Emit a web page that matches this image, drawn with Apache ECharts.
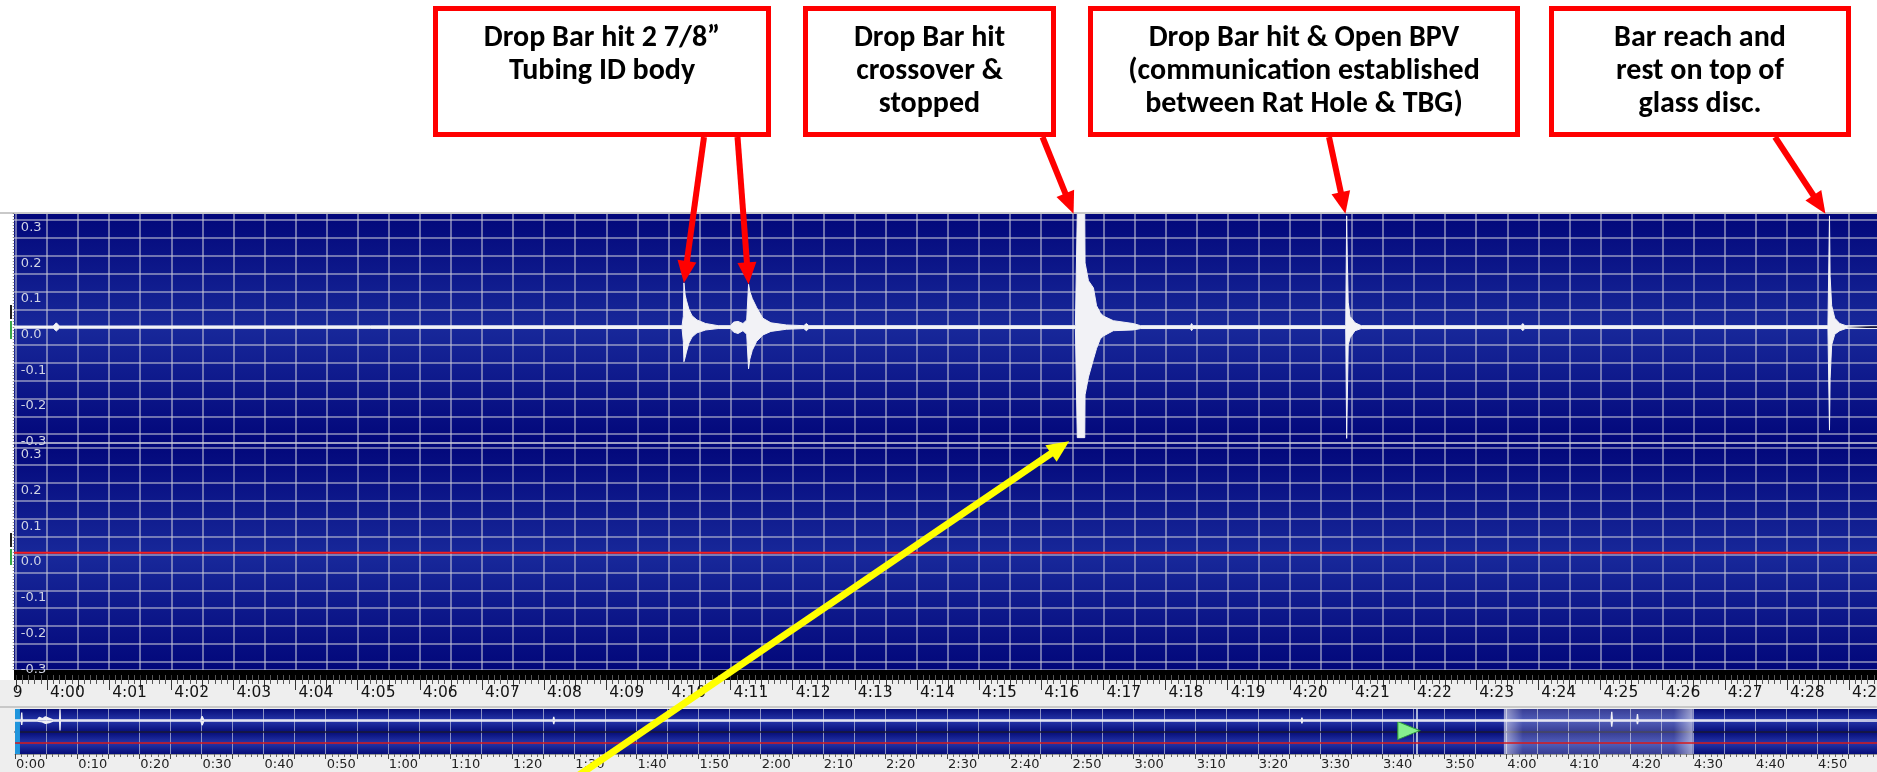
<!DOCTYPE html>
<html>
<head>
<meta charset="utf-8">
<title>Drop bar trace</title>
<script src="https://cdn.jsdelivr.net/npm/echarts@6.0.0/dist/echarts.min.js"></script>
<style>
  html, body { margin: 0; padding: 0; background: #fff; }
  #chart { width: 1877px; height: 772px; }
</style>
</head>
<body>
<div id="chart"></div>
<script>
// ---- data (times in seconds from start of record) ----
// upper channel, envelope of the signal
var traceTime = [239.00, 240.10, 240.15, 240.20, 250.22, 250.24, 250.25, 250.27, 250.29, 250.33,
                 250.38, 250.46, 250.60, 250.80, 251.00, 251.05, 251.12, 251.20, 251.26, 251.29,
                 251.31, 251.35, 251.42, 251.52, 251.65, 251.90, 252.18, 252.22, 252.26, 256.55,
                 256.58, 256.70, 256.705, 256.76, 256.84, 256.89, 256.95, 257.00, 257.16, 257.48,
                 257.60, 258.40, 258.42, 258.44, 260.90, 260.915, 260.925, 260.94, 260.97, 261.05,
                 261.15, 263.72, 263.75, 263.78, 268.66, 268.685, 268.695, 268.72, 268.77, 268.85,
                 268.95, 269.50];
var traceHigh = [0.003, 0.003, 0.012, 0.003, 0.004, 0.030, 0.124, 0.090, 0.075, 0.050,
                 0.032, 0.020, 0.010, 0.004, 0.004, 0.014, 0.016, 0.010, 0.020, 0.120,
                 0.100, 0.080, 0.055, 0.025, 0.012, 0.006, 0.004, 0.010, 0.004, 0.004,
                 0.320, 0.320, 0.180, 0.130, 0.110, 0.060, 0.040, 0.031, 0.018, 0.010,
                 0.004, 0.004, 0.010, 0.004, 0.004, 0.312, 0.200, 0.070, 0.030, 0.012,
                 0.004, 0.004, 0.010, 0.004, 0.004, 0.312, 0.143, 0.060, 0.025, 0.010,
                 0.004, 0.004];
var traceLow  = [-0.003, -0.003, -0.011, -0.003, -0.004, -0.040, -0.097, -0.085, -0.070, -0.045,
                 -0.028, -0.016, -0.008, -0.004, -0.004, -0.014, -0.018, -0.010, -0.020, -0.117,
                 -0.090, -0.065, -0.040, -0.022, -0.012, -0.006, -0.004, -0.010, -0.004, -0.004,
                 -0.310, -0.310, -0.190, -0.140, -0.090, -0.060, -0.033, -0.025, -0.010, -0.008,
                 -0.004, -0.004, -0.010, -0.004, -0.004, -0.312, -0.210, -0.050, -0.030, -0.010,
                 -0.004, -0.004, -0.010, -0.004, -0.004, -0.289, -0.145, -0.050, -0.020, -0.010,
                 -0.004, -0.004];
// lower channel (flat red trace)
var refTime  = [239.0, 269.5];
var refLevel = [0.005, 0.005];

// overview strip, whole record 0:00 - 5:00
var overviewTime = [0, 1.00, 1.08, 1.16, 3.6, 3.9, 4.4, 4.9, 5.5, 6.1,
                    7.18, 7.24, 7.30, 8.5, 8.6, 8.7, 12.7, 12.8, 12.9, 24.5,
                    24.6, 24.7, 29.9, 30.1, 30.4, 86.6, 86.7, 86.8, 207.0, 207.1,
                    207.2, 250.4, 250.5, 250.6, 256.86, 256.96, 257.06, 261.0, 261.1, 261.2,
                    268.9, 269.0, 269.1, 300];
var overviewHigh = [0.015, 0.015, 0.22, 0.015, 0.015, 0.09, 0.05, 0.10, 0.06, 0.015,
                    0.015, 0.31, 0.015, 0.015, 0.04, 0.015, 0.015, 0.03, 0.015, 0.015,
                    0.07, 0.015, 0.015, 0.12, 0.015, 0.015, 0.10, 0.015, 0.015, 0.08,
                    0.015, 0.015, 0.03, 0.015, 0.015, 0.24, 0.015, 0.015, 0.18, 0.015,
                    0.015, 0.06, 0.015, 0.015];
var overviewLow  = [-0.015, -0.015, -0.125, -0.015, -0.015, -0.07, -0.04, -0.08, -0.06, -0.015,
                    -0.015, -0.28, -0.015, -0.015, -0.04, -0.015, -0.015, -0.03, -0.015, -0.015,
                    -0.07, -0.015, -0.015, -0.13, -0.015, -0.015, -0.10, -0.015, -0.015, -0.08,
                    -0.015, -0.015, -0.03, -0.015, -0.015, -0.17, -0.015, -0.015, -0.10, -0.015,
                    -0.015, -0.06, -0.015, -0.015];
var overviewRefTime  = [0, 300];
var overviewRefLevel = [0, 0];
var viewWindow = [239.6, 270.0];
var startMark = [0, 0.8];
var playhead = 225.5;
var playMarker = [224.3, -0.28];

// annotation texts and the points they point at [time, value]
var noteText = [
  'Drop Bar hit 2 7/8\u201d\nTubing ID body',
  'Drop Bar hit\ncrossover &\nstopped',
  'Drop Bar hit & Open BPV\n(communication established\nbetween Rat Hole & TBG)',
  'Bar reach and\nrest on top of\nglass disc.'
];
var arrowTargets = [[250.25, 0.124], [251.29, 0.12], [256.52, 0.318], [260.895, 0.318], [268.62, 0.318]];
var yellowTarget = [256.45, -0.32];

// ---- layout ----
var pxPerSec = 62.14;
var x400 = 47;                       // pixel of 4:00
var mainMin = 239, mainMax = 269.5;
var mainLeft = x400 - (240 - mainMin) * pxPerSec;
var mainWidth = (mainMax - mainMin) * pxPerSec;
var ovLeft = 15, ovWidth = 300 * pxPerSec / 10;

function pad2(n) { return n < 10 ? '0' + n : '' + n; }
function mmss(v) {
  var s = Math.round(v);
  return Math.floor(s / 60) + ':' + pad2(s % 60);
}
function zip(a, b) { return a.map(function (t, i) { return [t, b[i]]; }); }

function panelBg(c0, c1) {
  return new echarts.graphic.LinearGradient(0, 0, 0, 1, [
    { offset: 0, color: c0 }, { offset: 0.5, color: c1 }, { offset: 1, color: c0 }
  ]);
}

var gridColor = 'rgba(200,200,215,0.72)';
var yLabel = {
  inside: true, margin: 36, align: 'left', verticalAlign: 'top', padding: [1, 0, 0, 0],
  color: '#d0d3e4', fontSize: 13, fontFamily: 'DejaVu Sans',
  formatter: function (v) {
    var r = Math.round(v * 10) / 10;
    if (Math.abs(v - r) > 1e-6) return '';
    return (r === 0 ? 0 : r).toFixed(1);
  }
};

var chart = echarts.init(document.getElementById('chart'));

var option = {
  animation: false,
  backgroundColor: '#ffffff',
  grid: [
    { left: mainLeft, top: 213, width: mainWidth, height: 230, show: true, borderWidth: 0,
      outerBoundsMode: 'none', backgroundColor: panelBg('#02077a', '#18289a') },
    { left: mainLeft, top: 443, width: mainWidth, height: 227, show: true, borderWidth: 0,
      outerBoundsMode: 'none', backgroundColor: panelBg('#02077a', '#18289a') },
    { left: ovLeft, top: 709, width: ovWidth, height: 23, show: true, borderWidth: 0,
      outerBoundsMode: 'none', backgroundColor: panelBg('#050c78', '#2636aa') },
    { left: ovLeft, top: 732, width: ovWidth, height: 22, show: true, borderWidth: 0,
      outerBoundsMode: 'none', backgroundColor: panelBg('#050c78', '#2636aa') }
  ],
  xAxis: [
    { gridIndex: 0, type: 'value', min: mainMin, max: mainMax, interval: 0.5,
      axisLine: { show: true, lineStyle: { color: '#14143c', width: 2 } },
      axisTick: { show: false }, axisLabel: { show: false },
      splitLine: { show: true, lineStyle: { color: gridColor, width: 1.5 } } },
    { gridIndex: 1, type: 'value', min: mainMin, max: mainMax, interval: 0.5, offset: 5,
      axisLine: { show: true, onZero: false, lineStyle: { color: '#000', width: 10 } },
      axisTick: { show: true, length: 15, lineStyle: { color: '#333', width: 1 } },
      minorTick: { show: true, splitNumber: 5, length: 9, lineStyle: { color: '#555', width: 1 } },
      axisLabel: { show: true, align: 'left', margin: 10, padding: [0, 0, 0, 3],
        color: '#141414', fontSize: 15.5, fontFamily: 'DejaVu Sans',
        formatter: function (v) { return Math.abs(v - Math.round(v)) > 1e-6 ? '' : mmss(v); } },
      splitLine: { show: true, lineStyle: { color: gridColor, width: 1.5 } } },
    { gridIndex: 2, type: 'value', min: 0, max: 300, interval: 5,
      axisLine: { show: true, onZero: false, lineStyle: { color: '#1a1a36', width: 1.5 } },
      axisTick: { show: false }, axisLabel: { show: false },
      splitLine: { show: true, lineStyle: { color: 'rgba(170,175,210,0.8)', width: 1 } } },
    { gridIndex: 3, type: 'value', min: 0, max: 300, interval: 5,
      axisLine: { show: true, onZero: false, lineStyle: { color: '#9a9a9a', width: 1 } },
      axisTick: { show: true, length: 5, lineStyle: { color: '#444' } },
      minorTick: { show: true, splitNumber: 5, length: 3, lineStyle: { color: '#666' } },
      axisLabel: { show: true, align: 'left', margin: 4, padding: [0, 0, 0, 1],
        color: '#222', fontSize: 13, fontFamily: 'DejaVu Sans',
        formatter: function (v) { return Math.round(v) % 10 === 0 ? mmss(v) : ''; } },
      splitLine: { show: true, lineStyle: { color: 'rgba(170,175,210,0.8)', width: 1 } } }
  ],
  yAxis: [
    { gridIndex: 0, type: 'value', min: -0.325, max: 0.32, splitNumber: 13,
      minInterval: 0.05, maxInterval: 0.05,
      axisLine: { show: false }, axisTick: { show: false }, axisLabel: yLabel,
      splitLine: { show: true, lineStyle: { color: gridColor, width: 1.5 } } },
    { gridIndex: 1, type: 'value', min: -0.323, max: 0.312, splitNumber: 13,
      minInterval: 0.05, maxInterval: 0.05,
      axisLine: { show: false }, axisTick: { show: false }, axisLabel: yLabel,
      splitLine: { show: true, lineStyle: { color: gridColor, width: 1.5 } } },
    { gridIndex: 2, type: 'value', min: -0.32, max: 0.32, show: false },
    { gridIndex: 3, type: 'value', min: -0.32, max: 0.32, show: false }
  ],
  series: [
    { type: 'line', xAxisIndex: 0, yAxisIndex: 0, data: zip(traceTime, traceHigh),
      symbol: 'none', silent: true, z: 5,
      lineStyle: { color: '#f2f2f6', width: 1 }, areaStyle: { color: '#f2f2f6', opacity: 1 } },
    { type: 'line', xAxisIndex: 0, yAxisIndex: 0, data: zip(traceTime, traceLow),
      symbol: 'none', silent: true, z: 5,
      lineStyle: { color: '#f2f2f6', width: 1 }, areaStyle: { color: '#f2f2f6', opacity: 1 } },
    { type: 'line', xAxisIndex: 1, yAxisIndex: 1, data: zip(refTime, refLevel),
      symbol: 'none', silent: true, z: 5,
      lineStyle: { color: '#f41e1e', width: 2 } },
    { type: 'line', xAxisIndex: 2, yAxisIndex: 2, data: zip(overviewTime, overviewHigh),
      symbol: 'none', silent: true, z: 5,
      lineStyle: { color: '#f0f0f6', width: 1.3 }, areaStyle: { color: '#f0f0f6', opacity: 1 },
      markArea: { silent: true, data: [
        [{ xAxis: viewWindow[0], itemStyle: { color: new echarts.graphic.LinearGradient(0, 0, 1, 0, [
            { offset: 0, color: 'rgba(255,255,255,0.6)' }, { offset: 0.1, color: 'rgba(255,255,255,0.2)' },
            { offset: 0.9, color: 'rgba(255,255,255,0.2)' }, { offset: 1, color: 'rgba(255,255,255,0.6)' }]) } },
         { xAxis: viewWindow[1] }],
        [{ xAxis: startMark[0], itemStyle: { color: '#1f95dc' } }, { xAxis: startMark[1] }]
      ] },
      markLine: { silent: true, symbol: 'none', label: { show: false },
        lineStyle: { color: '#dde6f2', width: 1.5, type: 'solid' }, data: [{ xAxis: playhead }] },
      markPoint: { silent: true, symbol: 'triangle', symbolSize: [18, 22], symbolRotate: -90,
        label: { show: false },
        itemStyle: { color: '#86f08e', borderColor: '#2d9a3a', borderWidth: 1 },
        data: [{ coord: playMarker }] } },
    { type: 'line', xAxisIndex: 2, yAxisIndex: 2, data: zip(overviewTime, overviewLow),
      symbol: 'none', silent: true, z: 5,
      lineStyle: { color: '#f0f0f6', width: 1.3 }, areaStyle: { color: '#f0f0f6', opacity: 1 } },
    { type: 'line', xAxisIndex: 3, yAxisIndex: 3, data: zip(overviewRefTime, overviewRefLevel),
      symbol: 'none', silent: true, z: 5,
      lineStyle: { color: '#d81818', width: 1.5 },
      markArea: { silent: true, data: [
        [{ xAxis: viewWindow[0], itemStyle: { color: new echarts.graphic.LinearGradient(0, 0, 1, 0, [
            { offset: 0, color: 'rgba(255,255,255,0.6)' }, { offset: 0.1, color: 'rgba(255,255,255,0.2)' },
            { offset: 0.9, color: 'rgba(255,255,255,0.2)' }, { offset: 1, color: 'rgba(255,255,255,0.6)' }]) } },
         { xAxis: viewWindow[1] }],
        [{ xAxis: startMark[0], itemStyle: { color: '#1f95dc' } }, { xAxis: startMark[1] }]
      ] },
      markLine: { silent: true, symbol: 'none', label: { show: false },
        lineStyle: { color: '#dde6f2', width: 1.5, type: 'solid' }, data: [{ xAxis: playhead }] } }
  ]
};
chart.setOption(option);

// ---- annotations ----
function arrow(x1, y1, x2, y2, color, w, headLen, headW) {
  var dx = x2 - x1, dy = y2 - y1, len = Math.sqrt(dx * dx + dy * dy);
  var ux = dx / len, uy = dy / len, px = -uy, py = ux;
  var bx = x2 - ux * headLen, by = y2 - uy * headLen;
  return [
    { type: 'line', z: 100, silent: true,
      shape: { x1: x1, y1: y1, x2: bx + ux * 2, y2: by + uy * 2 },
      style: { stroke: color, lineWidth: w } },
    { type: 'polygon', z: 100, silent: true,
      shape: { points: [[x2, y2], [bx + px * headW / 2, by + py * headW / 2], [bx - px * headW / 2, by - py * headW / 2]] },
      style: { fill: color } }
  ];
}

var boxes = [
  { x: 435.5, w: 333 }, { x: 805.5, w: 248 }, { x: 1090.5, w: 427 }, { x: 1551.5, w: 297 }
];
var tails = [[704, 137], [737.5, 137], [1042.5, 137], [1329, 137], [1775, 137]];

var g = [];
// light backgrounds and frame details
g.push({ type: 'rect', z: -10, silent: true, shape: { x: 0, y: 680, width: 1877, height: 92 }, style: { fill: '#eeeeee' } });
g.push({ type: 'rect', z: 60, silent: true, shape: { x: 0, y: 211, width: 14, height: 469 }, style: { fill: '#ffffff' } });
g.push({ type: 'rect', z: 60, silent: true, shape: { x: 0, y: 680, width: 13, height: 26 }, style: { fill: '#eeeeee' } });
g.push({ type: 'rect', z: 60, silent: true, shape: { x: 0, y: 212, width: 1877, height: 2 }, style: { fill: '#c9c9c9' } });
g.push({ type: 'line', z: 61, silent: true, shape: { x1: 13.5, y1: 213, x2: 13.5, y2: 670 }, style: { stroke: '#8a8a8a', lineWidth: 1.5, lineDash: [1, 2] } });
g.push({ type: 'rect', z: 61, silent: true, shape: { x: 10, y: 305, width: 2, height: 14 }, style: { fill: '#222' } });
g.push({ type: 'rect', z: 61, silent: true, shape: { x: 10, y: 321, width: 2, height: 18 }, style: { fill: '#3aa84a' } });
g.push({ type: 'rect', z: 61, silent: true, shape: { x: 10, y: 533, width: 2, height: 14 }, style: { fill: '#222' } });
g.push({ type: 'rect', z: 61, silent: true, shape: { x: 10, y: 549, width: 2, height: 16 }, style: { fill: '#3aa84a' } });
g.push({ type: 'rect', z: 60, silent: true, shape: { x: 0, y: 706, width: 1877, height: 2 }, style: { fill: '#c8c8c8' } });

boxes.forEach(function (b, i) {
  g.push({ type: 'rect', z: 100, silent: true,
    shape: { x: b.x, y: 8.5, width: b.w, height: 126 },
    style: { fill: '#ffffff', stroke: '#ff0000', lineWidth: 5 } });
  g.push({ type: 'text', z: 101, silent: true,
    style: { x: b.x + b.w / 2, y: 22, text: noteText[i], align: 'center', verticalAlign: 'top',
      fill: '#000', font: 'bold 30px Carlito, Lato, sans-serif', lineHeight: 33 } });
});
arrowTargets.forEach(function (p, i) {
  var tip = chart.convertToPixel({ gridIndex: 0 }, p);
  g = g.concat(arrow(tails[i][0], tails[i][1], tip[0], tip[1], '#ff0000', 6, 22, 19));
});
var ytip = chart.convertToPixel({ gridIndex: 0 }, yellowTarget);
g = g.concat(arrow(560, 788, ytip[0], ytip[1], '#ffff00', 7, 22, 20));

chart.setOption({ graphic: g });
</script>
</body>
</html>
